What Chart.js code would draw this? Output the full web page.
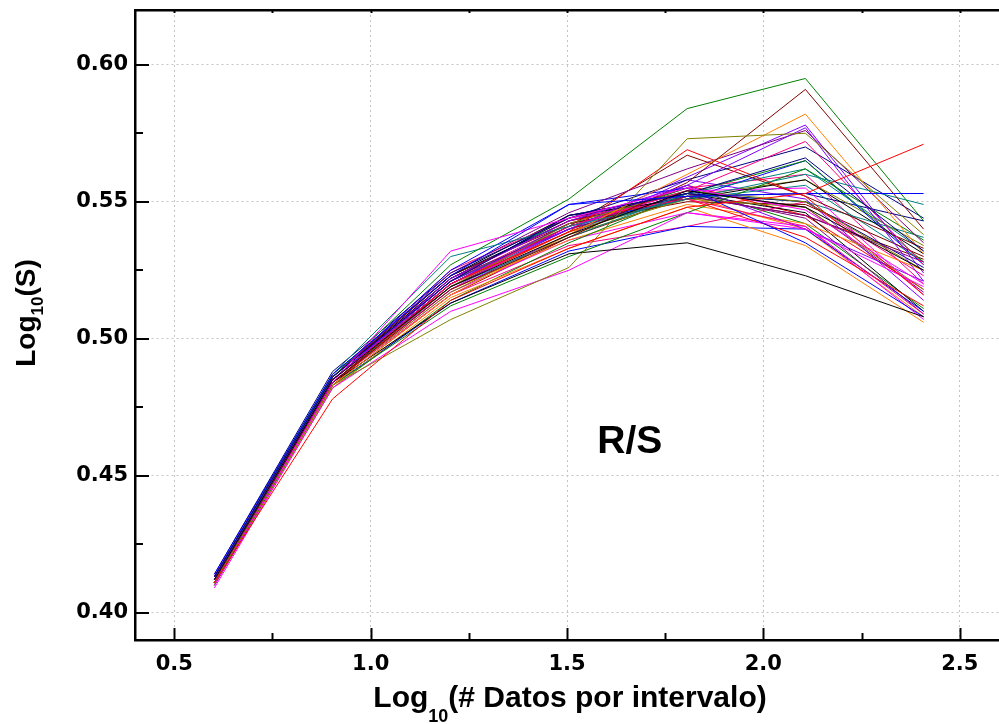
<!DOCTYPE html>
<html>
<head>
<meta charset="utf-8">
<script src="https://cdn.jsdelivr.net/npm/chart.js@4"></script>
<style>
  body { margin: 0; background: #fff; }
  #wrap { width: 999px; height: 724px; }
</style>
</head>
<body>
<div id="wrap"><canvas id="rsChart"></canvas></div>
<script>
// log10 of points per interval (4, 8, ... 256)
const logN = [0.602, 0.903, 1.204, 1.505, 1.806, 2.107, 2.408];

const xTicks = [0.5, 1.0, 1.5, 2.0, 2.5];
const xMinor = [0.75, 1.25, 1.75, 2.25];
const yTicks = [0.40, 0.45, 0.50, 0.55, 0.60];
const yMinor = [0.425, 0.475, 0.525, 0.575];

// Origin-like colour cycle
const palette = ['#000000', '#FF0000', '#0000FF', '#FF00FF', '#808000', '#000080', '#8000FF',
                 '#800000', '#008000', '#008080', '#FF8000', '#FF0080', '#800080'];

// log10(R/S) for each series
const series = [
  [0.412, 0.485, 0.519, 0.538, 0.554, 0.548, 0.525],
  [0.411, 0.478, 0.514, 0.533, 0.548, 0.553, 0.571],
  [0.414, 0.487, 0.523, 0.549, 0.552, 0.553, 0.553],
  [0.410, 0.484, 0.532, 0.544, 0.555, 0.547, 0.520],
  [0.411, 0.483, 0.507, 0.526, 0.573, 0.575, 0.538],
  [0.413, 0.486, 0.521, 0.545, 0.553, 0.566, 0.532],
  [0.412, 0.485, 0.522, 0.543, 0.556, 0.577, 0.521],
  [0.411, 0.484, 0.518, 0.537, 0.557, 0.591, 0.540],
  [0.410, 0.486, 0.527, 0.551, 0.584, 0.595, 0.543],
  [0.412, 0.487, 0.530, 0.541, 0.551, 0.560, 0.549],
  [0.411, 0.483, 0.516, 0.538, 0.560, 0.582, 0.531],
  [0.412, 0.485, 0.520, 0.541, 0.554, 0.572, 0.527],
  [0.413, 0.486, 0.524, 0.546, 0.562, 0.576, 0.535],
  [0.412, 0.484, 0.513, 0.531, 0.535, 0.523, 0.508],
  [0.411, 0.483, 0.520, 0.539, 0.569, 0.552, 0.516],
  [0.413, 0.486, 0.525, 0.549, 0.555, 0.535, 0.508],
  [0.409, 0.482, 0.510, 0.525, 0.546, 0.540, 0.519],
  [0.412, 0.485, 0.519, 0.542, 0.554, 0.550, 0.525],
  [0.414, 0.488, 0.524, 0.544, 0.558, 0.570, 0.544],
  [0.412, 0.485, 0.521, 0.540, 0.559, 0.578, 0.524],
  [0.412, 0.484, 0.520, 0.541, 0.567, 0.552, 0.533],
  [0.410, 0.483, 0.512, 0.530, 0.546, 0.562, 0.536],
  [0.411, 0.484, 0.519, 0.537, 0.553, 0.562, 0.532],
  [0.410, 0.482, 0.515, 0.533, 0.548, 0.534, 0.506],
  [0.413, 0.486, 0.525, 0.544, 0.551, 0.541, 0.509],
  [0.412, 0.485, 0.522, 0.540, 0.552, 0.545, 0.528],
  [0.413, 0.487, 0.523, 0.545, 0.551, 0.558, 0.531],
  [0.412, 0.485, 0.522, 0.543, 0.551, 0.537, 0.512],
  [0.411, 0.483, 0.513, 0.532, 0.541, 0.540, 0.510],
  [0.412, 0.485, 0.518, 0.541, 0.554, 0.555, 0.516],
  [0.411, 0.484, 0.517, 0.538, 0.551, 0.548, 0.518],
  [0.413, 0.486, 0.521, 0.545, 0.553, 0.550, 0.526],
  [0.412, 0.485, 0.519, 0.540, 0.556, 0.540, 0.521],
  [0.413, 0.486, 0.523, 0.542, 0.550, 0.549, 0.530],
  [0.410, 0.482, 0.514, 0.535, 0.553, 0.565, 0.528],
  [0.412, 0.485, 0.521, 0.540, 0.551, 0.556, 0.528],
  [0.411, 0.484, 0.518, 0.536, 0.549, 0.542, 0.525],
  [0.411, 0.484, 0.516, 0.534, 0.541, 0.550, 0.523],
  [0.412, 0.485, 0.520, 0.541, 0.553, 0.544, 0.509],
  [0.413, 0.486, 0.522, 0.544, 0.553, 0.546, 0.510],
  [0.412, 0.484, 0.519, 0.539, 0.556, 0.545, 0.518],
  [0.412, 0.485, 0.520, 0.542, 0.551, 0.565, 0.527],
  [0.411, 0.484, 0.517, 0.536, 0.546, 0.541, 0.507],
  [0.412, 0.485, 0.520, 0.539, 0.552, 0.558, 0.534],
  [0.413, 0.486, 0.523, 0.543, 0.552, 0.553, 0.543],
  [0.412, 0.484, 0.518, 0.538, 0.558, 0.551, 0.514],
  [0.411, 0.483, 0.516, 0.537, 0.552, 0.545, 0.529],
  [0.412, 0.485, 0.521, 0.541, 0.555, 0.542, 0.511],
  [0.412, 0.485, 0.520, 0.540, 0.553, 0.550, 0.537],
  [0.411, 0.484, 0.519, 0.539, 0.552, 0.540, 0.508],
  [0.412, 0.485, 0.521, 0.542, 0.555, 0.560, 0.520],
  [0.413, 0.486, 0.522, 0.543, 0.554, 0.548, 0.517]
];

const tickFont = { family: '"DejaVu Sans", sans-serif', size: 21, weight: 'bold' };
const titleFamily = '"Liberation Sans", Arial, sans-serif';

const datasets = series.map((vals, i) => ({
    label: 'S' + (i + 1),
    data: vals.map((v, j) => ({ x: logN[j], y: v })),
    borderColor: palette[i % palette.length],
    borderWidth: 1,
    pointRadius: 0,
    fill: false,
    tension: 0,
}));

// inward tick marks like the original plot
const innerTicks = {
    id: 'innerTicks',
    afterDatasetsDraw(chart) {
        const { ctx, chartArea: a, scales } = chart;
        const x = scales.x, y = scales.y;
        ctx.save();
        ctx.strokeStyle = '#000';
        const line = (x1, y1, x2, y2, w) => {
            ctx.lineWidth = w;
            ctx.beginPath();
            ctx.moveTo(x1, y1);
            ctx.lineTo(x2, y2);
            ctx.stroke();
        };
        xTicks.forEach(v => {
            const px = Math.round(x.getPixelForValue(v)) + 0.5;
            line(px, a.bottom, px, a.bottom - 12, 2);
            line(px, a.top, px, a.top + 3, 2);
        });
        xMinor.forEach(v => {
            const px = Math.round(x.getPixelForValue(v)) + 0.5;
            line(px, a.bottom, px, a.bottom - 7, 2);
            line(px, a.top, px, a.top + 3, 2);
        });
        yTicks.forEach(v => {
            const py = Math.round(y.getPixelForValue(v));
            line(a.left, py, a.left + 14, py, 2);
        });
        yMinor.forEach(v => {
            const py = Math.round(y.getPixelForValue(v));
            line(a.left, py, a.left + 8, py, 2);
        });
        ctx.restore();
    }
};

// draws "Log" + subscript "10" + rest, centred on 0
function subText(ctx, size, subSize, subDrop, rest) {
    const big = 'bold ' + size + 'px ' + titleFamily;
    const small = 'bold ' + subSize + 'px ' + titleFamily;
    ctx.font = big;
    const w1 = ctx.measureText('Log').width;
    const w3 = ctx.measureText(rest).width;
    ctx.font = small;
    const w2 = ctx.measureText('10').width;
    let start = -(w1 + w2 + w3) / 2;
    ctx.textAlign = 'left';
    ctx.textBaseline = 'alphabetic';
    ctx.font = big;
    ctx.fillText('Log', start, 0);
    ctx.font = small;
    ctx.fillText('10', start + w1, subDrop);
    ctx.font = big;
    ctx.fillText(rest, start + w1 + w2, 0);
}

const titles = {
    id: 'titles',
    afterDraw(chart) {
        const { ctx, chartArea: a, scales } = chart;
        ctx.save();
        ctx.fillStyle = '#000';
        // x title
        ctx.save();
        ctx.translate((a.left + a.right) / 2 + 3, 707);
        subText(ctx, 30, 18, 15, '(# Datos por intervalo)');
        ctx.restore();
        // y title
        ctx.save();
        ctx.translate(35, 313);
        ctx.rotate(-Math.PI / 2);
        subText(ctx, 28, 17, 8, '(S)');
        ctx.restore();
        // R/S label
        ctx.font = 'bold 39px ' + titleFamily;
        ctx.textAlign = 'center';
        ctx.textBaseline = 'alphabetic';
        ctx.fillText('R/S', scales.x.getPixelForValue(1.66), scales.y.getPixelForValue(0.4584));
        ctx.restore();
    }
};

const gridColor = '#c4c4c4';

new Chart(document.getElementById('rsChart'), {
    type: 'line',
    data: { datasets: datasets },
    plugins: [innerTicks, titles],
    options: {
        responsive: true,
        maintainAspectRatio: false,
        animation: false,
        layout: { padding: 0 },
        plugins: {
            legend: { display: false },
            tooltip: { enabled: false },
        },
        scales: {
            x: {
                type: 'linear',
                position: 'bottom',
                min: 0.4,
                max: 2.6,
                afterBuildTicks: s => { s.ticks = xTicks.map(v => ({ value: v })); },
                afterFit: s => { s.height = 84; s.paddingLeft = 0; s.paddingRight = 0; },
                grid: { color: gridColor, lineWidth: 1, drawTicks: false },
                border: { display: true, color: '#000', width: 2.5, dash: [2, 3] },
                ticks: {
                    color: '#000',
                    font: tickFont,
                    padding: 12,
                    maxRotation: 0,
                    callback: v => v.toFixed(1),
                },
            },
            xTop: {
                type: 'linear',
                position: 'top',
                min: 0.4,
                max: 2.6,
                afterFit: s => { s.height = 10; s.paddingLeft = 0; s.paddingRight = 0; },
                grid: { display: false, drawTicks: false },
                border: { display: true, color: '#000', width: 2.5 },
                ticks: { display: false },
            },
            y: {
                type: 'linear',
                min: 0.39,
                max: 0.62,
                afterBuildTicks: s => { s.ticks = yTicks.map(v => ({ value: v })); },
                afterFit: s => { s.width = 135; s.paddingTop = 0; s.paddingBottom = 0; },
                grid: { color: gridColor, lineWidth: 1, drawTicks: false },
                border: { display: true, color: '#000', width: 2.5, dash: [2, 3] },
                ticks: {
                    color: '#000',
                    font: tickFont,
                    padding: 7,
                    callback: v => v.toFixed(2),
                },
            },
        },
    },
});
</script>
</body>
</html>
